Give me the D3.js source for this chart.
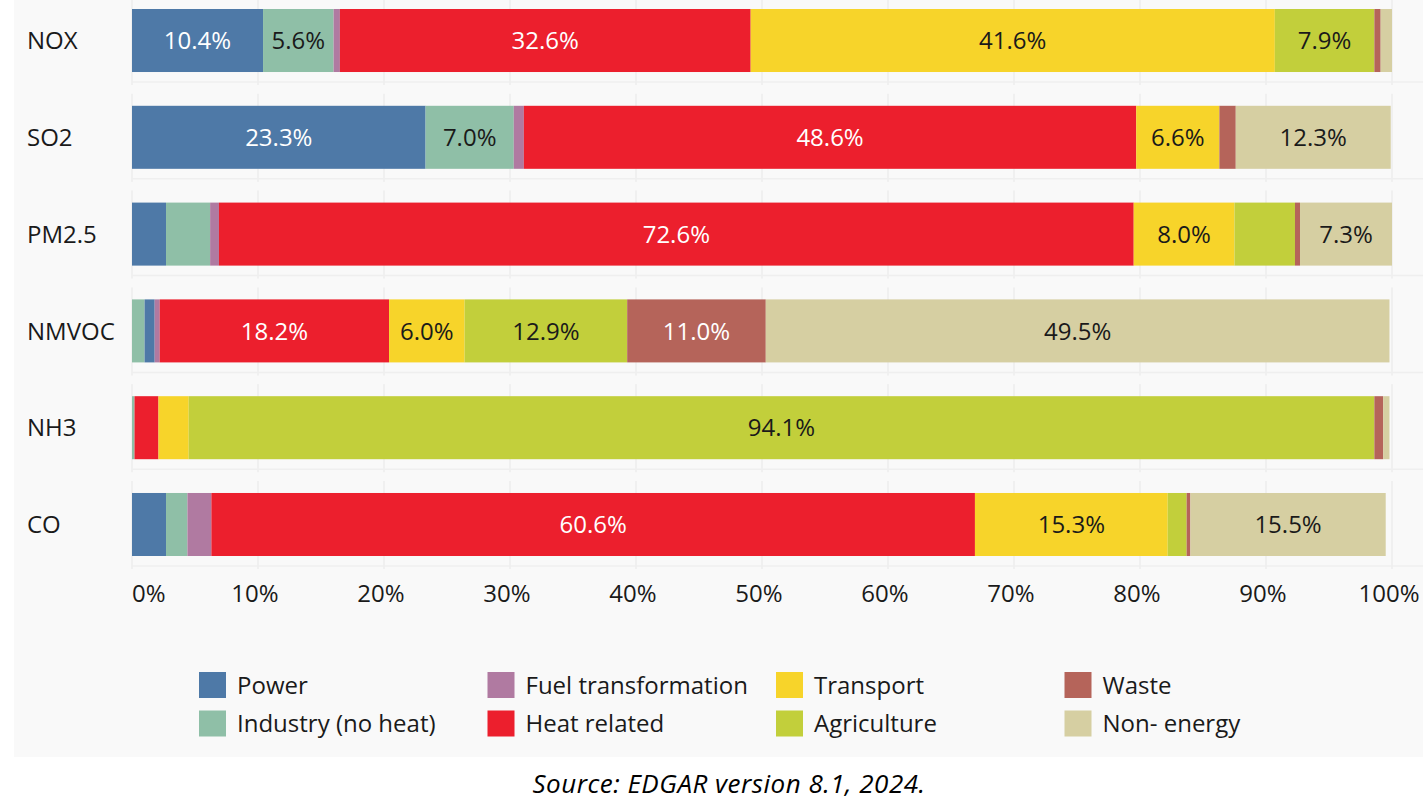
<!DOCTYPE html>
<html>
<head>
<meta charset="utf-8">
<script src="https://cdn.jsdelivr.net/npm/d3@7"></script>
<style>
  html, body { margin: 0; padding: 0; background: #ffffff; }
  svg { display: block; font-family: "Open Sans", "Noto Sans", sans-serif; }
</style>
</head>
<body>
<svg id="chart" width="1423" height="803"></svg>
<script>
// ---- data ----
const categories = ["NOX", "SO2", "PM2.5", "NMVOC", "NH3", "CO"];
const sectors = ["Power", "Industry (no heat)", "Fuel transformation", "Heat related",
                 "Transport", "Agriculture", "Waste", "Non- energy"];
const power       = [10.4, 23.3,  2.7,  0.8,  0.0,  2.7];
const industry    = [ 5.6,  7.0,  3.5,  1.0,  0.2,  1.7];
const fuelTransf  = [ 0.5,  0.8,  0.7,  0.4,  0.0,  1.9];
const heatRelated = [32.6, 48.6, 72.6, 18.2,  1.9, 60.6];
const transport   = [41.6,  6.6,  8.0,  6.0,  2.4, 15.3];
const agriculture = [ 7.9,  0.0,  4.8, 12.9, 94.1,  1.5];
const waste       = [ 0.5,  1.3,  0.4, 11.0,  0.7,  0.3];
const nonEnergy   = [ 0.9, 12.3,  7.3, 49.5,  0.5, 15.5];
const seriesValues = [power, industry, fuelTransf, heatRelated, transport, agriculture, waste, nonEnergy];
// NMVOC bar shows Industry before Power
const stackOrders = { "NMVOC": [1, 0, 2, 3, 4, 5, 6, 7] };
const tickValues = [0, 10, 20, 30, 40, 50, 60, 70, 80, 90, 100];
const sourceText = "Source: EDGAR version 8.1, 2024.";

// ---- styles ----
const colors = ["#4e79a7", "#8fbfa7", "#b07aa1", "#ec1f2d", "#f7d42a", "#c2cf3b", "#b5645a", "#d6cfa2"];
const labelColors = ["#ffffff", "#1a1a1a", "#ffffff", "#ffffff", "#1a1a1a", "#1a1a1a", "#ffffff", "#1a1a1a"];

const svg = d3.select("#chart");
svg.append("rect").attr("x", 14).attr("y", 0).attr("width", 1409).attr("height", 757).attr("fill", "#f9f9f9");

const x = d3.scaleLinear().domain([0, 100]).range([132, 1392]);
const y = d3.scaleBand().domain(categories).range([9, 556]).paddingInner(0.349).paddingOuter(0);
const bw = y.bandwidth();

// per-row grid panels
const grid = svg.append("g");
categories.forEach(c => {
  const top = y(c);
  grid.selectAll(null).data(tickValues).enter().append("line")
    .attr("x1", d => x(d)).attr("x2", d => x(d))
    .attr("y1", top - 12).attr("y2", top + bw + 13)
    .attr("stroke", "#ececec").attr("stroke-width", 1.5);
  grid.append("line")
    .attr("x1", x(0)).attr("x2", 1423)
    .attr("y1", top + bw + 10).attr("y2", top + bw + 10)
    .attr("stroke", "#efefef").attr("stroke-width", 1.5);
});

// build segments
const segments = [];
categories.forEach((c, ci) => {
  const order = stackOrders[c] || sectors.map((s, i) => i);
  let acc = 0;
  order.forEach(si => {
    const v = seriesValues[si][ci];
    segments.push({ cat: c, si, v, x0: acc, x1: acc + v });
    acc += v;
  });
});

const bars = svg.append("g");
bars.selectAll("rect").data(segments.filter(d => d.v > 0)).enter().append("rect")
  .attr("x", d => x(d.x0)).attr("width", d => x(d.x1) - x(d.x0))
  .attr("y", d => y(d.cat)).attr("height", bw)
  .attr("fill", d => colors[d.si]);

bars.selectAll("text").data(segments.filter(d => d.v >= 5)).enter().append("text")
  .attr("x", d => (x(d.x0) + x(d.x1)) / 2)
  .attr("y", d => y(d.cat) + bw / 2)
  .attr("dy", "0.36em")
  .attr("text-anchor", "middle")
  .attr("font-size", 24)
  .attr("fill", d => labelColors[d.si])
  .text(d => d.v.toFixed(1) + "%");

// category labels
svg.append("g").selectAll("text").data(categories).enter().append("text")
  .attr("x", 27).attr("y", d => y(d) + bw / 2).attr("dy", "0.36em")
  .attr("font-size", 24).attr("fill", "#1a1a1a")
  .text(d => d);

// x axis tick labels
svg.append("g").selectAll("text").data(tickValues).enter().append("text")
  .attr("x", d => d === 0 ? x(d) : x(d) - 3)
  .attr("y", 602)
  .attr("text-anchor", d => d === 0 ? "start" : "middle")
  .attr("font-size", 24).attr("fill", "#1a1a1a")
  .text(d => d + "%");

// legend
const legend = svg.append("g");
const lg = legend.selectAll("g").data(sectors).enter().append("g")
  .attr("transform", (d, i) => `translate(${199 + Math.floor(i / 2) * 288.5}, ${672 + (i % 2) * 38.5})`);
lg.append("rect").attr("width", 27).attr("height", 26).attr("fill", (d, i) => colors[i]);
lg.append("text").attr("x", 38).attr("y", 13).attr("dy", "0.36em")
  .attr("font-size", 24).attr("fill", "#1a1a1a").text(d => d);

// source
svg.append("text").attr("x", 729).attr("y", 793).attr("text-anchor", "middle")
  .attr("font-size", 26).attr("font-style", "italic").attr("letter-spacing", 0.5).attr("fill", "#000")
  .text(sourceText);
</script>
</body>
</html>
